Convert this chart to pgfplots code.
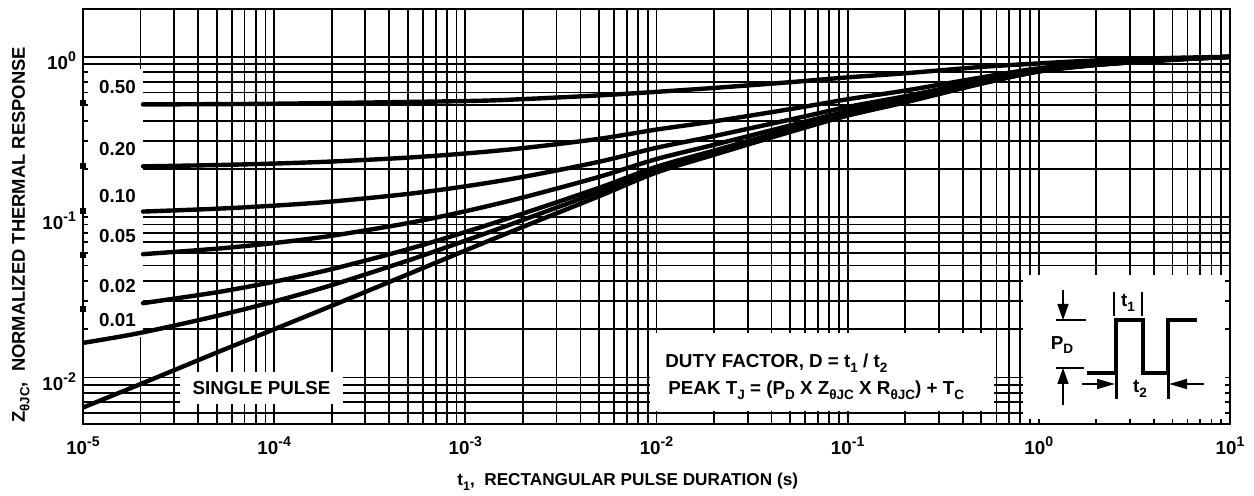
\documentclass[border=0pt]{standalone}
\usepackage{pgfplots}
\pgfplotsset{compat=1.18}
\usetikzlibrary{arrows.meta}
\usepackage{fontspec}
\setmainfont{Liberation Sans}
\newcommand{\sbs}[1]{\raisebox{-0.45ex}{\scalebox{0.72}{#1}}}
\newcommand{\sps}[1]{\raisebox{0.8ex}{\scalebox{0.75}{#1}}}
\newcommand{\tl}[1]{10\sps{#1}}
\newcommand{\lbl}{\fontsize{9.4}{11}\selectfont\bfseries}
\tikzset{crv/.style={black, line width=2.2pt, line cap=round, line join=round, smooth, no markers}}
\begin{document}
\begin{tikzpicture}
\useasboundingbox (0,0) rectangle (627pt,248pt);
\begin{axis}[
  at={(41.5pt,36pt)}, anchor=south west,
  scale only axis, width=573.5pt, height=207.7pt,
  xmode=log, ymode=log,
  xmin=1e-5, xmax=10, ymin=0.00513, ymax=2,
  grid=both,
  major grid style={black, line width=0.9pt},
  minor grid style={black, line width=0.9pt},
  axis line style={black, line width=1pt},
  tick style={black, line width=0.9pt},
  major tick length=2.5pt, minor tick length=2.5pt,
  tick align=inside,
  xtick={1e-5,1e-4,1e-3,1e-2,1e-1,1,10},
  xticklabels={\tl{-5},\tl{-4},\tl{-3},\tl{-2},\tl{-1},\tl{0},\tl{1}},
  minor xtick={2e-5,3e-5,4e-5,5e-5,6e-5,7e-5,8e-5,9e-5,
               2e-4,3e-4,4e-4,5e-4,6e-4,7e-4,8e-4,9e-4,
               2e-3,3e-3,4e-3,5e-3,6e-3,7e-3,8e-3,9e-3,
               2e-2,3e-2,4e-2,5e-2,6e-2,7e-2,8e-2,9e-2,
               0.2,0.3,0.4,0.5,0.6,0.7,0.8,0.9,
               2,3,4,5,6,7,8,9},
  ytick={0.01,0.1,1},
  yticklabels={\tl{-2},\tl{-1},\tl{0}},
  minor ytick={0.006,0.007,0.008,0.009,
               0.02,0.03,0.04,0.05,0.06,0.07,0.08,0.09,
               0.2,0.3,0.4,0.5,0.6,0.7,0.8,0.9,2},
  tick label style={font=\lbl},
  xticklabel style={yshift=-3pt},
  yticklabel style={yshift=-2pt},
]
% white label boxes (cover the grid)
\fill[white] (axis cs:1.062e-5,0.0179) rectangle (axis cs:2.06e-5,0.842);
\fill[white] (axis cs:3.216e-5,0.00684) rectangle (axis cs:2.29e-4,0.01083);
\fill[white] (axis cs:9.3e-3,0.0062) rectangle (axis cs:0.58,0.01897);
\fill[white] (axis cs:0.826,0.00552) rectangle (axis cs:9.41,0.0437);

% D = 0.50
\addplot[crv] coordinates {(2.06e-5,0.505)(1e-4,0.51)(1e-3,0.53)(2e-3,0.545)(5e-3,0.575)(1e-2,0.605)(2e-2,0.64)(5e-2,0.695)(0.1,0.745)(0.2,0.79)(0.5,0.865)(1,0.91)(2,0.95)(5,0.985)(10,1.0)};
% D = 0.20
\addplot[crv] coordinates {(2.06e-5,0.2074)(5e-5,0.2114)(1e-4,0.216)(2e-4,0.2224)(5e-4,0.2352)(1e-3,0.2496)(2e-3,0.2696)(5e-3,0.308)(1e-2,0.352)(2e-2,0.396)(5e-2,0.472)(0.1,0.544)(0.2,0.616)(0.5,0.744)(1,0.848)(2,0.912)(5,0.968)(10,1.0)};
% D = 0.10
\addplot[crv] coordinates {(2.06e-5,0.1084)(5e-5,0.1129)(1e-4,0.118)(2e-4,0.1252)(5e-4,0.1396)(1e-3,0.1558)(2e-3,0.1783)(5e-3,0.2215)(1e-2,0.271)(2e-2,0.3205)(5e-2,0.406)(0.1,0.487)(0.2,0.568)(0.5,0.712)(1,0.829)(2,0.901)(5,0.964)(10,1.0)};
% D = 0.05
\addplot[crv] coordinates {(2.06e-5,0.0588)(5e-5,0.0636)(1e-4,0.069)(2e-4,0.0766)(5e-4,0.0918)(1e-3,0.1089)(2e-3,0.1327)(5e-3,0.1783)(1e-2,0.2305)(2e-2,0.2828)(5e-2,0.373)(0.1,0.4585)(0.2,0.544)(0.5,0.696)(1,0.8195)(2,0.8955)(5,0.962)(10,1.0)};
% D = 0.02
\addplot[crv] coordinates {(2.06e-5,0.0291)(5e-5,0.034)(1e-4,0.0396)(2e-4,0.0474)(5e-4,0.0631)(1e-3,0.0808)(2e-3,0.1053)(5e-3,0.1523)(1e-2,0.2062)(2e-2,0.2601)(5e-2,0.3532)(0.1,0.4414)(0.2,0.5296)(0.5,0.6864)(1,0.8138)(2,0.8922)(5,0.9608)(10,1.0)};
% D = 0.01
\addplot[crv] coordinates {(1e-5,0.01644)(2e-5,0.019)(5e-5,0.0242)(1e-4,0.0298)(2e-4,0.0377)(5e-4,0.0536)(1e-3,0.0714)(2e-3,0.0961)(5e-3,0.1437)(1e-2,0.1981)(2e-2,0.2526)(5e-2,0.3466)(0.1,0.4357)(0.2,0.5248)(0.5,0.6832)(1,0.8119)(2,0.8911)(5,0.9604)(10,1.0)};
% single pulse
\addplot[crv] coordinates {(1e-5,0.0065)(2e-5,0.0091)(5e-5,0.0143)(1e-4,0.020)(2e-4,0.028)(5e-4,0.044)(1e-3,0.062)(2e-3,0.087)(5e-3,0.135)(1e-2,0.19)(2e-2,0.245)(5e-2,0.34)(0.1,0.43)(0.2,0.52)(0.5,0.68)(1,0.81)(2,0.89)(5,0.96)(10,1.0)};
% value marks on the left axis
\addplot[black, only marks, mark=square*, mark size=1.3pt] coordinates {(1e-5,0.516)(1e-5,0.209)(1e-5,0.109)(1e-5,0.058)(1e-5,0.0267)};
\end{axis}

\begin{scope}[x=0.5pt,y=-0.5pt,shift={(0pt,248pt)}]
\node[font=\lbl,anchor=base] at (117.5,93.3) {0.50};
\node[font=\lbl,anchor=base] at (117.5,156) {0.20};
\node[font=\lbl,anchor=base] at (117.5,203) {0.10};
\node[font=\lbl,anchor=base] at (117.5,242.7) {0.05};
\node[font=\lbl,anchor=base] at (117.5,292.7) {0.02};
\node[font=\lbl,anchor=base] at (117.5,326.7) {0.01};
\node[font=\lbl,anchor=base] at (261.5,395) {SINGLE PULSE};
\node[font=\lbl,anchor=base west,inner sep=0pt] at (665,368) {DUTY FACTOR, D = t\sbs{1} / t\sbs{2}};
\node[font=\lbl,anchor=base west,inner sep=0pt] at (668,395) {PEAK T\sbs{J} = (P\sbs{D} X Z\sbs{θJC} X R\sbs{θJC}) + T\sbs{C}};
% axis titles
\node[font=\fontsize{8.6}{10}\selectfont\bfseries,anchor=base west,inner sep=0pt] at (457,486) {t\sbs{1},\ \ RECTANGULAR PULSE DURATION (s)};
\node[font=\fontsize{9.2}{11}\selectfont\bfseries,anchor=base west,inner sep=0pt,rotate=90] at (25,423) {Z\sbs{θJC},\ \ NORMALIZED THERMAL RESPONSE};
% inset
\draw[line width=2pt] (1087,373) -- (1116,373) -- (1116,320) -- (1143,320) -- (1143,373) -- (1168,373) -- (1168,320) -- (1197,320);
\draw[line width=0.8pt,-{Triangle[length=8pt,width=5.5pt]}] (1063,290) -- (1063,320);
\draw[line width=0.8pt] (1056,320) -- (1086,320);
\draw[line width=0.8pt] (1056,368) -- (1084,368);
\draw[line width=0.8pt,-{Triangle[length=8pt,width=5.5pt]}] (1063,405) -- (1063,368);
\node[font=\lbl] at (1062,345) {P\sbs{D}};
\draw[line width=1pt] (1114,292) -- (1114,316) (1142,292) -- (1142,316);
\node[font=\lbl] at (1128,303) {t\sbs{1}};
\draw[line width=1.5pt] (1116,373) -- (1116,399) (1168,373) -- (1168,399);
\draw[line width=0.8pt,-{Triangle[length=9pt,width=5pt]}] (1082,384) -- (1115,384);
\draw[line width=0.8pt,-{Triangle[length=9pt,width=5pt]}] (1204,384) -- (1169,384);
\node[font=\lbl] at (1140,389) {t\sbs{2}};
\end{scope}
\end{tikzpicture}
\end{document}
